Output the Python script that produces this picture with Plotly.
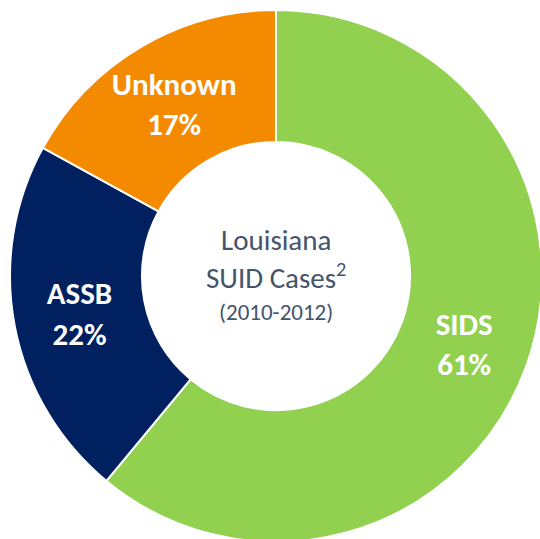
import plotly.graph_objects as go

categories = ["SIDS", "ASSB", "Unknown"]
values = [61, 22, 17]
colors = ["#92D050", "#002060", "#F38A00"]
center_lines = ["Louisiana", "SUID Cases<sup>2</sup>", "(2010-2012)"]

FONT = "Carlito, Calibri, 'Open Sans', sans-serif"

fig = go.Figure(go.Pie(
    labels=categories,
    values=values,
    hole=0.504,
    sort=False,
    direction="clockwise",
    rotation=0,
    marker=dict(colors=colors, line=dict(color="white", width=2)),
    texttemplate="<b>%{label}<br>%{value}%</b>",
    textposition="inside",
    insidetextorientation="horizontal",
    textfont=dict(family=FONT, size=31, color="white"),
    showlegend=False,
    hoverinfo="label+percent",
))

W, H, M = 552, 552, 10
def py(y):
    return 1 - (y - M) / (H - 2 * M)

ys = [240, 276, 312]
sizes = [29, 29, 23]
for txt, y, s in zip(center_lines, ys, sizes):
    fig.add_annotation(text=txt, x=0.5, y=py(y), xref="paper", yref="paper",
                       xanchor="center", yanchor="middle", showarrow=False,
                       font=dict(family=FONT, size=s, color="#44546A"))

fig.update_layout(
    width=W, height=H,
    margin=dict(l=M, r=M, t=M, b=M),
    paper_bgcolor="white", plot_bgcolor="white",
    uniformtext=dict(mode="show", minsize=31),
)

fig.write_html("out.html", config={"displayModeBar": False},
               post_script="document.body.style.margin='0';document.body.style.overflow='hidden';")
